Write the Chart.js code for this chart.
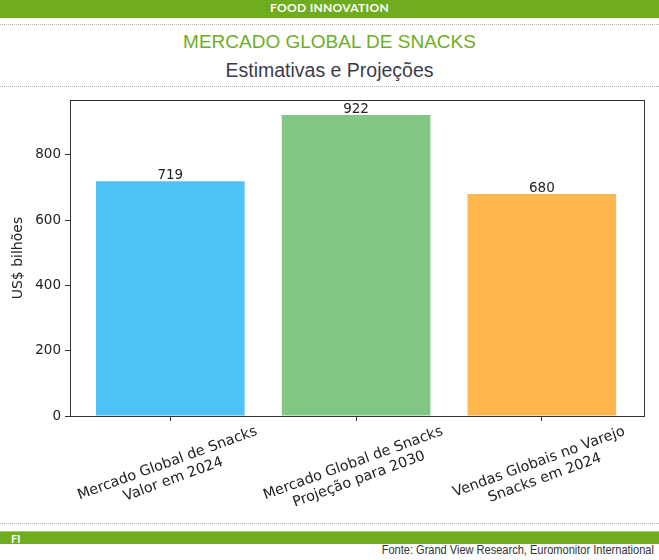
<!DOCTYPE html>
<html>
<head>
<meta charset="utf-8">
<script src="https://cdn.jsdelivr.net/npm/chart.js@4"></script>
<style>
  body { margin: 0; width: 659px; height: 560px; background: #fff; overflow: hidden; position: relative; }
  .bar { position: absolute; left: 0; width: 659px; background: #6fad1f; color: #fff; }
  .dots { position: absolute; left: 0; width: 659px; border-top: 1px dotted #b0b0b0; }
  #top { top: 0; height: 18px; line-height: 19px; text-align: center; font: bold 12px Lato, sans-serif; letter-spacing: 0.3px; }
  #title { position: absolute; top: 31px; width: 659px; text-align: center; font: 19px "Liberation Sans", Arial, sans-serif; color: #6fad1f; }
  #subtitle { position: absolute; top: 59px; width: 659px; text-align: center; font: 19.5px "Liberation Sans", Arial, sans-serif; color: #3b3b4b; }
  #foot { top: 531px; height: 13px; border-top: 1px solid #9fd06a; line-height: 13px; font: bold 11px Lato, sans-serif; padding-left: 11px; box-sizing: border-box; }
  #source { position: absolute; top: 543px; right: 5px; font: 12px "Liberation Sans", sans-serif; color: #333; transform: scaleX(0.92); transform-origin: right center; }
  #wrap { position: absolute; left: 0; top: 88px; width: 659px; height: 432px; }
</style>
</head>
<body>
<div class="bar" id="top">FOOD INNOVATION</div>
<div class="dots" style="top:24px"></div>
<div id="title">MERCADO GLOBAL DE SNACKS</div>
<div id="subtitle">Estimativas e Projeções</div>
<div class="dots" style="top:86px"></div>
<div id="wrap"><canvas id="chart"></canvas></div>
<div class="dots" style="top:523px"></div>
<div class="bar" id="foot">FI</div>
<div id="source">Fonte: Grand View Research, Euromonitor International</div>

<script>
// data
var categories = [
  ['Mercado Global de Snacks', 'Valor em 2024'],
  ['Mercado Global de Snacks', 'Projeção para 2030'],
  ['Vendas Globais no Varejo', 'Snacks em 2024']
];
var values = [719, 922, 680];
var yTicks = [0, 200, 400, 600, 800];
var yLabel = 'US$ bilhões';

var tickFont = '13.5px "DejaVu Sans"';
var ink = '#222';

// frame round the plot area, like matplotlib spines
var framePlugin = {
  id: 'frame',
  afterDraw: function (chart) {
    var a = chart.chartArea, ctx = chart.ctx;
    ctx.save();
    ctx.strokeStyle = '#333';
    ctx.lineWidth = 1;
    ctx.strokeRect(Math.round(a.left) + 0.5, Math.round(a.top) + 0.5,
                   Math.round(a.right - a.left), Math.round(a.bottom - a.top));
    ctx.restore();
  }
};

// numbers above each bar
var valuePlugin = {
  id: 'values',
  afterDatasetsDraw: function (chart) {
    var ctx = chart.ctx;
    var meta = chart.getDatasetMeta(0);
    ctx.save();
    ctx.font = tickFont;
    ctx.fillStyle = ink;
    ctx.textAlign = 'center';
    ctx.textBaseline = 'bottom';
    meta.data.forEach(function (bar, i) {
      ctx.fillText(String(values[i]), bar.x, bar.y + 1);
    });
    ctx.restore();
  }
};

// rotated two-line category labels, centred on the tick (matplotlib style)
var labelPlugin = {
  id: 'xlabels',
  afterDraw: function (chart) {
    var ctx = chart.ctx;
    var xs = chart.scales.x;
    var ang = 20 * Math.PI / 180;
    var lh = 17;
    ctx.save();
    ctx.font = '14.4px "DejaVu Sans"';
    ctx.fillStyle = ink;
    ctx.textAlign = 'center';
    ctx.textBaseline = 'middle';
    categories.forEach(function (lines, i) {
      var w = Math.max.apply(null, lines.map(function (s) { return ctx.measureText(s).width; }));
      var h = lines.length * lh;
      var cx = xs.getPixelForValue(i);
      var cy = xs.top + 7 + (Math.sin(ang) * w / 2 + Math.cos(ang) * h / 2);
      ctx.save();
      ctx.translate(cx, cy);
      ctx.rotate(-ang);
      lines.forEach(function (s, j) {
        ctx.fillText(s, 0, -h / 2 + lh * (j + 0.5));
      });
      ctx.restore();
    });
    ctx.restore();
  }
};

var points = values.map(function (v, i) { return { x: i, y: v }; });

new Chart(document.getElementById('chart'), {
  type: 'bar',
  data: {
    datasets: [{
      data: points,
      backgroundColor: ['#4fc3f7', '#81c784', '#ffb74d'],
      borderWidth: 0,
      barPercentage: 1,
      categoryPercentage: 0.8
    }]
  },
  options: {
    responsive: true,
    maintainAspectRatio: false,
    animation: false,
    layout: { padding: { left: 10, right: 15, top: 10, bottom: 0 } },
    plugins: { legend: { display: false }, tooltip: { enabled: false } },
    scales: {
      x: {
        type: 'linear',
        min: -0.54,
        max: 2.55,
        offset: false,
        afterBuildTicks: function (scale) {
          scale.ticks = categories.map(function (c, i) { return { value: i }; });
        },
        afterFit: function (scale) { scale.height = 104; },
        grid: { display: true, drawOnChartArea: false, drawTicks: true, tickLength: 5, color: '#333', offset: false },
        border: { display: true, color: '#333', width: 1 },
        ticks: { display: false }
      },
      y: {
        min: 0,
        max: 968,
        afterBuildTicks: function (scale) {
          scale.ticks = yTicks.map(function (v) { return { value: v }; });
        },
        afterFit: function (scale) { scale.width = 60; },
        grid: { display: true, drawOnChartArea: false, drawTicks: true, tickLength: 5, color: '#333' },
        border: { display: true, color: '#333', width: 1 },
        ticks: { color: ink, font: { family: 'DejaVu Sans', size: 13.5 }, padding: 4 },
        title: { display: true, text: yLabel, color: ink, font: { family: 'DejaVu Sans', size: 14 }, padding: { top: 0, bottom: 4 } }
      }
    }
  },
  plugins: [framePlugin, valuePlugin, labelPlugin]
});
</script>
</body>
</html>
